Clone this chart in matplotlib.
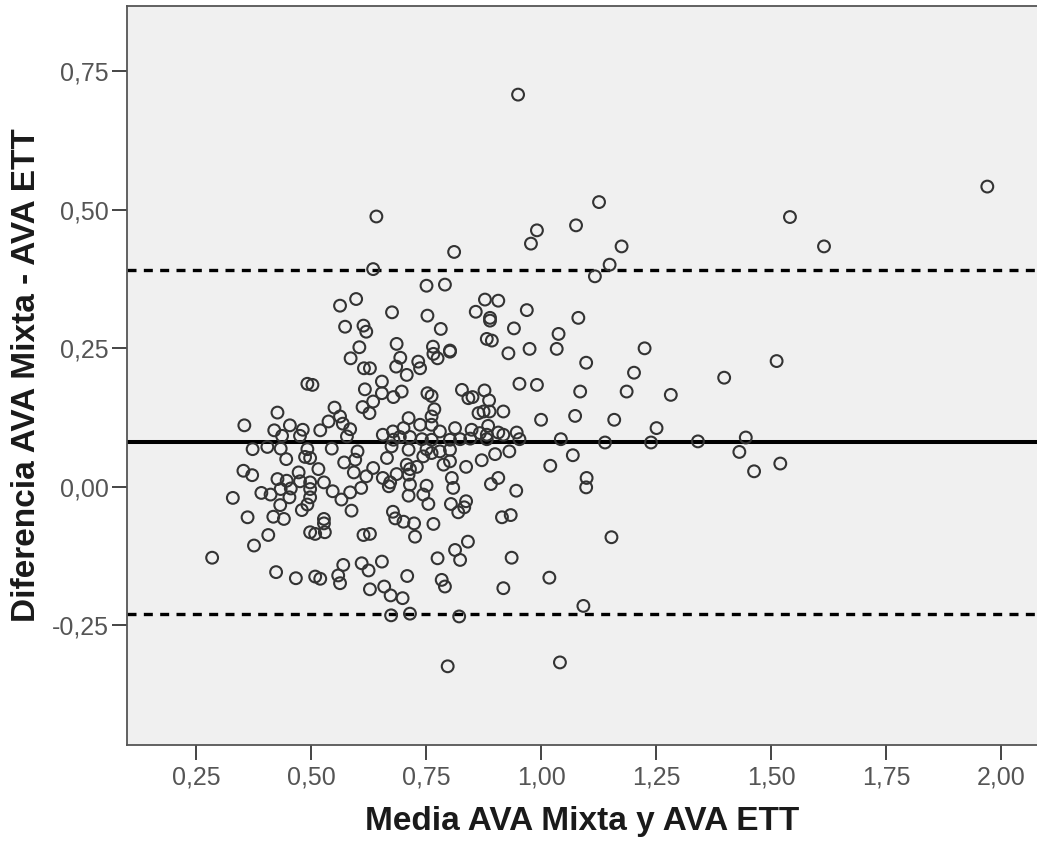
import matplotlib
matplotlib.use("Agg")
import matplotlib.pyplot as plt
from matplotlib.ticker import FixedLocator, FuncFormatter

# mean of the two AVA measurements (x) and their difference (y), one entry per patient
media = [
    0.642, 0.635, 0.563, 0.598, 0.676, 0.574, 0.614, 0.620, 0.605, 0.686, 0.586, 0.615, 0.628, 0.685, 0.694,
    0.492, 0.503, 0.654, 0.617, 0.654, 0.679, 0.635, 0.612, 0.627, 0.551, 0.427, 0.355, 0.563, 0.538, 0.569,
    0.454, 0.482, 0.520, 0.420, 0.585, 0.437, 0.476, 0.578, 0.656, 0.678, 0.679,
    0.373, 0.405, 0.434, 0.492, 0.545, 0.601, 0.675, 0.446, 0.487, 0.498, 0.665, 0.572, 0.596, 0.635, 0.686,
    0.353, 0.372, 0.516, 0.473, 0.593, 0.620, 0.427, 0.447, 0.476, 0.498, 0.528, 0.656, 0.672,
    0.392, 0.412, 0.434, 0.456, 0.498, 0.547, 0.585, 0.609, 0.669, 0.330, 0.453, 0.498, 0.566, 0.433, 0.492,
    0.480, 0.588, 0.678, 0.418, 0.441, 0.362, 0.528, 0.528, 0.683, 0.407, 0.498, 0.509, 0.530, 0.614, 0.628,
    0.285, 0.376, 0.424, 0.467, 0.509, 0.520, 0.570, 0.559, 0.563, 0.610, 0.625, 0.654, 0.628, 0.659, 0.673, 0.674,
    0.726, 0.775, 0.813, 0.824, 0.841, 0.936, 0.709, 0.699, 0.784, 0.791, 0.918, 1.018, 1.092, 0.715, 0.822,
    0.797, 1.041,
    0.991, 0.978, 1.076, 0.811, 0.751, 0.791, 0.878, 0.907, 0.858, 0.889, 0.889, 0.969, 1.081, 0.753, 0.782,
    0.941, 1.038, 0.882, 0.893, 0.765, 0.802, 0.802, 0.766, 0.775, 0.733, 0.929, 0.975, 1.034, 1.098,
    0.708, 0.737, 0.953, 0.991, 1.085, 0.697, 0.753, 0.762, 0.828, 0.842, 0.851, 0.877, 0.887, 0.768, 0.864,
    0.875, 0.888, 0.918, 1.000, 1.074, 0.712, 0.762, 0.762, 0.737, 0.701, 0.813, 0.780, 0.885, 0.849, 0.867,
    0.882, 0.907, 0.918, 0.947, 0.953, 0.693, 0.715, 0.741, 0.762, 0.802, 0.824, 0.846, 0.882, 1.043,
    0.712, 0.751, 0.762, 0.780, 0.744, 0.802, 0.900, 0.931, 1.069, 0.871, 0.788, 0.802, 0.708, 0.715, 0.730,
    0.837, 1.020, 0.712, 0.806, 0.809, 0.907, 0.891, 1.099, 1.098, 0.715, 0.751, 0.712, 0.744, 0.946, 0.755,
    0.804, 0.837, 0.833, 0.820, 0.701, 0.724, 0.766, 0.915, 0.934,
    1.126, 1.175, 1.149, 1.117, 1.541, 1.615, 1.225, 1.202, 1.512, 1.398, 1.186, 1.282, 1.159, 1.251, 1.139,
    1.239, 1.341, 1.445, 1.431, 1.463, 1.520, 1.153, 0.950, 1.970,
]
diferencia = [
    0.488, 0.393, 0.327, 0.339, 0.315, 0.289, 0.291, 0.280, 0.252, 0.258, 0.232, 0.214, 0.214, 0.217, 0.233,
    0.186, 0.184, 0.190, 0.176, 0.169, 0.162, 0.154, 0.144, 0.133, 0.143, 0.134, 0.111, 0.127, 0.118, 0.114,
    0.111, 0.103, 0.102, 0.102, 0.104, 0.092, 0.092, 0.091, 0.094, 0.100, 0.085,
    0.068, 0.072, 0.069, 0.068, 0.069, 0.064, 0.073, 0.050, 0.054, 0.052, 0.052, 0.044, 0.049, 0.034, 0.023,
    0.029, 0.021, 0.032, 0.026, 0.026, 0.019, 0.014, 0.011, 0.010, 0.008, 0.008, 0.016, 0.008,
    -0.011, -0.014, -0.004, -0.003, -0.004, -0.008, -0.010, -0.002, 0.001, -0.020, -0.019, -0.019, -0.023, -0.033, -0.032,
    -0.042, -0.043, -0.045, -0.054, -0.058, -0.055, -0.058, -0.066, -0.057, -0.087, -0.082, -0.085, -0.082, -0.087, -0.085,
    -0.128, -0.106, -0.154, -0.165, -0.162, -0.166, -0.141, -0.160, -0.174, -0.138, -0.151, -0.135, -0.185, -0.180, -0.196, -0.232,
    -0.090, -0.129, -0.114, -0.132, -0.099, -0.128, -0.161, -0.201, -0.168, -0.180, -0.183, -0.164, -0.215, -0.229, -0.234,
    -0.324, -0.317,
    0.463, 0.439, 0.472, 0.424, 0.363, 0.365, 0.338, 0.336, 0.316, 0.305, 0.300, 0.319, 0.305, 0.309, 0.285,
    0.286, 0.276, 0.267, 0.264, 0.253, 0.246, 0.244, 0.240, 0.232, 0.226, 0.241, 0.249, 0.249, 0.224,
    0.202, 0.214, 0.186, 0.184, 0.172, 0.172, 0.169, 0.164, 0.175, 0.160, 0.162, 0.174, 0.156, 0.140, 0.133,
    0.136, 0.136, 0.136, 0.121, 0.128, 0.124, 0.127, 0.112, 0.112, 0.106, 0.106, 0.100, 0.110, 0.103, 0.097,
    0.094, 0.098, 0.094, 0.098, 0.086, 0.090, 0.090, 0.086, 0.085, 0.085, 0.086, 0.087, 0.086, 0.086,
    0.067, 0.068, 0.061, 0.064, 0.055, 0.067, 0.059, 0.064, 0.057, 0.048, 0.040, 0.046, 0.040, 0.032, 0.036,
    0.036, 0.038, 0.022, 0.016, -0.002, 0.016, 0.005, 0.016, -0.001, 0.004, 0.002, -0.016, -0.014, -0.007, -0.031,
    -0.031, -0.026, -0.037, -0.046, -0.063, -0.066, -0.067, -0.055, -0.051,
    0.514, 0.434, 0.401, 0.380, 0.487, 0.434, 0.250, 0.206, 0.227, 0.197, 0.172, 0.166, 0.121, 0.106, 0.080,
    0.080, 0.082, 0.089, 0.063, 0.028, 0.042, -0.091, 0.708, 0.542,
]

# mean difference and limits of agreement
media_dif = 0.081
lim_sup = 0.392
lim_inf = -0.230

x_ticks = [0.25, 0.50, 0.75, 1.00, 1.25, 1.50, 1.75, 2.00]
y_ticks = [-0.25, 0.00, 0.25, 0.50, 0.75]

plt.rcParams["font.family"] = ["Liberation Sans", "DejaVu Sans"]

fig = plt.figure(figsize=(10.37, 8.43), dpi=100)
ax = fig.add_axes([0.1225, 0.1163, 0.8775, 0.8766])
ax.set_facecolor("#f0f0f0")

ax.axhline(lim_sup, color="black", lw=2.4, linestyle=(0, (2.7, 2.2)), zorder=2)
ax.axhline(lim_inf, color="black", lw=2.4, linestyle=(0, (2.7, 2.2)), zorder=2)
ax.axhline(media_dif, color="black", lw=2.9, zorder=2)

ax.scatter(media, diferencia, s=72, facecolors="none", edgecolors="#333333",
           linewidths=1.5, zorder=3)

ax.set_xlim(0.1, 2.078)
ax.set_ylim(-0.466, 0.868)

fmt = FuncFormatter(lambda v, p: f"{v:.2f}".replace(".", ","))
ax.xaxis.set_major_locator(FixedLocator(x_ticks))
ax.yaxis.set_major_locator(FixedLocator(y_ticks))
ax.xaxis.set_major_formatter(fmt)
ax.yaxis.set_major_formatter(fmt)
ax.tick_params(axis="both", direction="out", length=11, width=1.4, color="#444444",
               labelsize=18, labelcolor="#555555")
ax.tick_params(axis="x", pad=4)
ax.tick_params(axis="y", pad=2)

for side in ["left", "bottom", "top"]:
    ax.spines[side].set_color("#555555")
    ax.spines[side].set_linewidth(1.3)
ax.spines["right"].set_visible(False)

ax.set_xlabel("Media AVA Mixta y AVA ETT", fontsize=24, fontweight="bold",
              color="#1a1a1a")
ax.set_ylabel("Diferencia AVA Mixta - AVA ETT", fontsize=24, fontweight="bold",
              color="#1a1a1a")
ax.xaxis.set_label_coords(0.5, -0.082)
ax.yaxis.set_label_coords(-0.093, 0.5)

fig.savefig("out.png", dpi=100)
